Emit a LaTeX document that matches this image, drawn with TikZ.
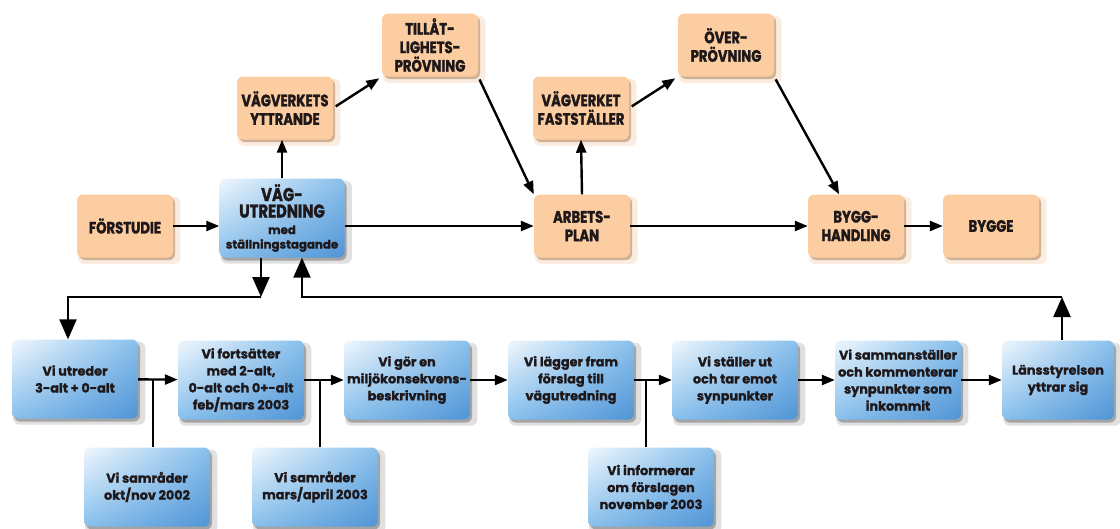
\documentclass[tikz,border=0pt]{standalone}
\usepackage{fontspec}
\setmainfont{Poppins}[BoldFeatures={FakeBold=1.3}]
\newfontfamily\capsfont{Poppins}[FakeStretch=0.8, BoldFeatures={FakeBold=1.6}]
\usetikzlibrary{arrows.meta,shadows,shadings}

\definecolor{boxorange}{RGB}{252,205,160}
\definecolor{glow}{RGB}{226,150,85}
\definecolor{ink}{RGB}{30,24,26}
\definecolor{bluehi}{RGB}{240,247,253}
\definecolor{bluemid}{RGB}{136,192,236}
\definecolor{bluelo}{RGB}{80,148,214}

\tikzset{
  topbox/.style={rounded corners=6pt, fill=boxorange, text=ink, align=center,
    minimum width=96pt, minimum height=63pt, inner sep=2pt,
    font=\capsfont\bfseries\fontsize{16.5}{18.5}\selectfont,
    general shadow={fill=glow, opacity=.18, shadow scale=1.07, shadow xshift=4pt, shadow yshift=-4pt},
    general shadow={fill=glow!70!black, opacity=.45, shadow xshift=2pt, shadow yshift=-2.5pt}},
  stepbox/.style={rounded corners=6pt, text=ink, align=center,
    minimum width=126pt, minimum height=79pt, inner sep=2pt,
    upper left=bluehi, upper right=bluemid, lower left=bluemid, lower right=bluelo,
    font=\bfseries\fontsize{12.8}{17}\selectfont,
    general shadow={fill=black, opacity=.12, shadow scale=1.05, shadow xshift=4pt, shadow yshift=-4pt},
    general shadow={fill=black!80, opacity=.35, shadow xshift=2pt, shadow yshift=-3pt}},
  arr/.style={line width=2.4pt, -{Triangle[length=13pt,width=10pt]}},
  bigarr/.style={line width=2.4pt, -{Triangle[length=20pt,width=17pt]}},
  plain/.style={line width=2.4pt}
}

\begin{document}
\begin{tikzpicture}[x=1pt,y=-1pt]
\useasboundingbox (0,0) rectangle (1120,528);

% upper row
\node[topbox] (forstudie) at (125,226) {FÖRSTUDIE};
\node[stepbox, minimum width=125pt, font=\capsfont\bfseries\fontsize{18.5}{16.5}\selectfont] (vagutr) at (282,218)
  {VÄG-\\UTREDNING\\\fontsize{11.8}{12}\selectfont\rmfamily med\\[-2pt]\fontsize{11.8}{12}\selectfont\rmfamily ställningstagande};
\node[topbox] (yttrande) at (285,108) {VÄGVERKETS\\YTTRANDE};
\node[topbox] (tillat) at (430,45) {TILLÅT-\\LIGHETS-\\PRÖVNING};
\node[topbox] (faststaller) at (581,108) {VÄGVERKET\\FASTSTÄLLER};
\node[topbox] (arbetsplan) at (582,226) {ARBETS-\\PLAN};
\node[topbox] (overprov) at (726,45) {ÖVER-\\PRÖVNING};
\node[topbox] (bygghandl) at (856,226) {BYGG-\\HANDLING};
\node[topbox] (bygge) at (991,226) {BYGGE};

% lower row
\node[stepbox] (utreder) at (75,379) {Vi utreder\\3-alt + 0-alt};
\node[stepbox] (fortsatter) at (241,380) {Vi fortsätter\\med 2-alt,\\0-alt och 0+-alt\\feb/mars 2003};
\node[stepbox] (mkb) at (407,380) {Vi gör en\\miljökonsekvens-\\beskrivning};
\node[stepbox] (laggerfram) at (571,380) {Vi lägger fram\\förslag till\\vägutredning};
\node[stepbox] (staller) at (735,380) {Vi ställer ut\\och tar emot\\synpunkter};
\node[stepbox] (sammanst) at (898,380) {Vi sammanställer\\och kommenterar\\synpunkter som\\inkommit};
\node[stepbox, minimum width=112pt] (lansstyr) at (1058,380) {Länsstyrelsen\\yttrar sig};

\node[stepbox] (samr1) at (147,487) {Vi samråder\\okt/nov 2002};
\node[stepbox] (samr2) at (315,487) {Vi samråder\\mars/april 2003};
\node[stepbox] (informerar) at (651,487) {Vi informerar\\om förslagen\\november 2003};

\coordinate (j1) at (153,379);
\coordinate (j2) at (320,379);
\coordinate (j3) at (646,379);
\coordinate (loopD) at (261,297);
\coordinate (loopB) at (68,297);
\coordinate (loopU) at (302,297);
\coordinate (loopR) at (1062,297);

% connectors, upper
\draw[arr] (forstudie.east) -- (forstudie.east -| vagutr.west);
\draw[arr] (vagutr.north) -- (vagutr.north |- yttrande.south);
\draw[arr, shorten <=3pt, shorten >=3pt] (yttrande.east) -- (tillat.south west);
\draw[arr, shorten <=3pt] (tillat.south east) -- (arbetsplan.north west);
\draw[arr] (vagutr.east |- arbetsplan.west) -- (arbetsplan.west);
\draw[arr] (arbetsplan.north) -- (faststaller.south);
\draw[arr, shorten <=3pt, shorten >=3pt] (faststaller.east) -- (overprov.south west);
\draw[arr, shorten <=3pt] (overprov.south east) -- (bygghandl.118);
\draw[arr] (arbetsplan) -- (bygghandl);
\draw[arr] (bygghandl) -- (bygge);

% connectors, lower
\draw[arr] (utreder) -- (fortsatter);
\draw[arr] (fortsatter) -- (mkb);
\draw[arr] (mkb) -- (laggerfram);
\draw[arr] (laggerfram) -- (staller);
\draw[arr] (staller) -- (sammanst);
\draw[arr] (sammanst) -- (lansstyr);
\draw[plain] (samr1.north -| j1) -- (j1);
\draw[plain] (samr2.north -| j2) -- (j2);
\draw[plain] (informerar.north -| j3) -- (j3);

% loop between the rows
\draw[bigarr] (vagutr.south -| loopD) -- (loopD);
\draw[bigarr] (loopD) -- (loopB) -- (utreder.north -| loopB);
\draw[bigarr] (lansstyr.north -| loopR) -- (loopR);
\draw[bigarr] (loopR) -- (loopU) -- (vagutr.south -| loopU);
\end{tikzpicture}
\end{document}
